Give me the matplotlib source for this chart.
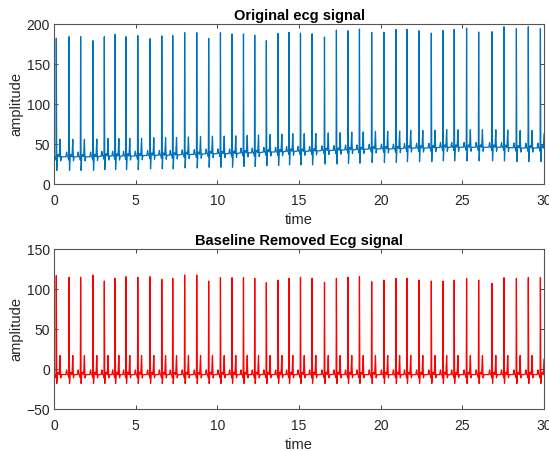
import numpy as np
import matplotlib.pyplot as plt

plt.rcParams['font.family'] = ['Liberation Sans', 'DejaVu Sans']

# R-peak times (s)
beat_t = [0.14, 0.92, 1.63, 2.39, 3.08, 3.74, 4.41, 5.13, 5.88, 6.60,
          7.27, 8.00, 8.74, 9.47, 10.19, 10.90, 11.60, 12.29, 13.00, 13.72,
          14.39, 15.09, 15.80, 16.56, 17.29, 18.00, 18.70, 19.45, 20.20, 20.93,
          21.61, 22.35, 23.10, 23.81, 24.50, 25.26, 26.00, 26.82, 27.55, 28.31,
          29.04, 29.78]

# original signal: R-peak heights and baseline level per beat
orig_peak = [182.5, 184.6, 184.6, 179.5, 184.6, 187.5, 184.6, 186.0, 182.0, 185.5,
             186.0, 189.5, 189.5, 182.5, 189.5, 188.0, 188.0, 186.5, 179.5, 188.7,
             190.0, 188.7, 188.2, 184.1, 192.9, 192.0, 194.1, 190.0, 190.0, 193.7,
             193.7, 192.0, 189.1, 192.4, 193.7, 195.4, 190.4, 190.8, 197.0, 194.5,
             197.0, 194.5]
orig_base = [34, 34, 34, 34, 35, 35, 35, 35, 36, 36,
             36, 37, 37, 38, 38, 38, 39, 39, 40, 40,
             41, 41, 41, 42, 42, 43, 43, 44, 44, 44,
             45, 45, 45, 46, 46, 46, 46, 46, 46, 45,
             45, 45]

# baseline removed signal: R-peak heights, flat baseline
filt_peak = [117.0, 115.0, 115.0, 117.8, 110.3, 113.7, 115.7, 115.0, 115.7, 112.4,
             113.7, 117.8, 117.8, 110.3, 114.5, 114.5, 114.5, 113.7, 108.2, 111.5,
             113.7, 115.0, 113.7, 108.6, 113.7, 115.0, 115.7, 109.4, 111.5, 113.7,
             113.7, 111.5, 110.3, 110.3, 111.5, 113.7, 111.5, 107.4, 114.5, 113.7,
             114.5, 114.5]
filt_base = -7

# beat shape around the R peak (time offset s, amplitude above baseline)
shape_t = [-0.36, -0.20, -0.15, -0.11, -0.05, -0.02, 0.0, 0.03, 0.06, 0.11, 0.18, 0.23, 0.27, 0.31, 0.36]
shape_orig = [0, 0, 6, 0, 0, -4, 0, -17, 0, 3, 0, 22, -5, 0, 0]
shape_filt = [0, 0, 6, 0, 0, -4, 0, -11, 0, 3, 0, 24, -4, 0, 0]
spike_t = [-0.02, 0.0, 0.02]
spike_v = [0, 1, 0]

fs = 1000
t = np.arange(0, 30 + 1 / fs, 1 / fs)

orig = np.interp(t, beat_t, orig_base)
filt = np.full_like(t, filt_base, dtype=float)
for i, tb in enumerate(beat_t):
    d = t - tb
    orig += np.interp(d, shape_t, shape_orig, left=0, right=0)
    orig += (orig_peak[i] - orig_base[i]) * np.interp(d, spike_t, spike_v, left=0, right=0)
    filt += np.interp(d, shape_t, shape_filt, left=0, right=0)
    filt += (filt_peak[i] - filt_base) * np.interp(d, spike_t, spike_v, left=0, right=0)

fig = plt.figure(figsize=(5.49, 4.51), dpi=100)
ax1 = fig.add_axes([0.0984, 0.592, 0.8925, 0.354])
ax2 = fig.add_axes([0.0984, 0.0931, 0.8925, 0.354])

ax1.plot(t, orig, color='#0072BD', lw=0.9)
ax1.set_ylim(0, 200)
ax1.set_yticks([0, 50, 100, 150, 200])
ax1.set_title('Original ecg signal', fontsize=10.5, fontweight='bold', pad=3)

ax2.plot(t, filt, color='#FF0000', lw=0.9)
ax2.set_ylim(-50, 150)
ax2.set_yticks([-50, 0, 50, 100, 150])
ax2.set_title('Baseline Removed Ecg signal', fontsize=10.5, fontweight='bold', pad=3)

for ax in (ax1, ax2):
    ax.set_xlim(0, 30)
    ax.set_xticks([0, 5, 10, 15, 20, 25, 30])
    ax.set_xlabel('time', fontsize=10.5, color='#262626', labelpad=4)
    ax.set_ylabel('amplitude', fontsize=10.5, color='#262626', labelpad=2)
    ax.tick_params(direction='in', top=True, right=True, length=3, width=0.6,
                   labelsize=10, colors='#262626')
    ax.tick_params(axis='x', pad=7)
    ax.tick_params(axis='y', pad=3)
    for s in ax.spines.values():
        s.set_color('#555555')
        s.set_linewidth(0.8)

fig.savefig('out.png', dpi=100)
